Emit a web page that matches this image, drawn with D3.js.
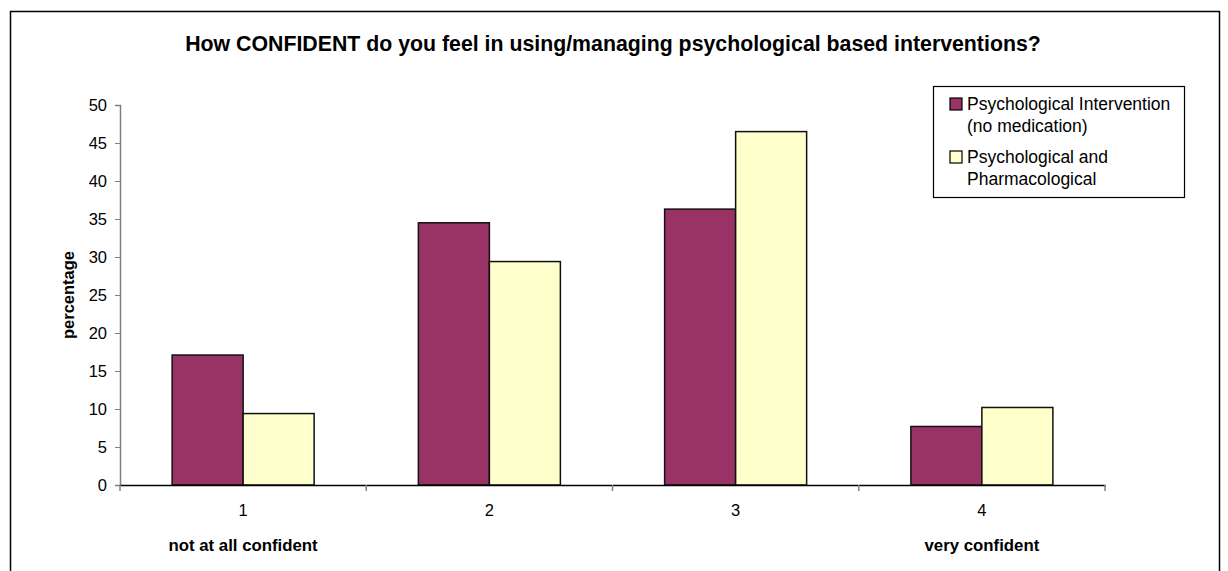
<!DOCTYPE html>
<html>
<head>
<meta charset="utf-8">
<script src="https://cdn.jsdelivr.net/npm/d3@7"></script>
<style>
  body { margin: 0; background: #fff; }
  text { font-family: Arial, "Liberation Sans", sans-serif; }
</style>
</head>
<body>
<div id="chart"></div>
<script>
// data
var categories = ["1", "2", "3", "4"];
var categoryNotes = ["not at all confident", "", "", "very confident"];
var seriesNames = ["Psychological Intervention|(no medication)", "Psychological and|Pharmacological"];
var noMedication = [17.1, 34.5, 36.3, 7.7];
var withMedication = [9.4, 29.4, 46.5, 10.2];
var yTicks = [0, 5, 10, 15, 20, 25, 30, 35, 40, 45, 50];

var width = 1228, height = 571;
var colors = ["#993366", "#FFFFCC"];

var svg = d3.select("#chart").append("svg")
    .attr("width", width)
    .attr("height", height);

// outer frame (runs off the bottom edge like the original)
svg.append("rect")
    .attr("x", 10.5).attr("y", 11.5)
    .attr("width", 1209).attr("height", 600)
    .attr("fill", "none")
    .attr("stroke", "#000")
    .attr("stroke-width", 1.5);

svg.append("text")
    .attr("x", 613).attr("y", 51)
    .attr("text-anchor", "middle")
    .style("font-size", "21.3px")
    .style("font-weight", "bold")
    .text("How CONFIDENT do you feel in using/managing psychological based interventions?");

var plot = { left: 120, right: 1105, top: 105, bottom: 485 };

var x = d3.scaleBand()
    .domain(categories)
    .range([plot.left, plot.right]);

var y = d3.scaleLinear()
    .domain([0, 50])
    .range([plot.bottom, plot.top]);

var barW = 71;

// y axis
var yAxis = svg.append("g")
    .attr("transform", "translate(" + plot.left + ",0)")
    .call(d3.axisLeft(y).tickValues(yTicks).tickSize(5).tickPadding(8));
yAxis.select(".domain").attr("stroke", "#808080").attr("stroke-width", 1.5);
yAxis.selectAll(".tick line").attr("stroke", "#808080");
yAxis.selectAll("text").style("font-size", "16.5px").attr("fill", "#000");

// bars
var rows = categories.map(function (c, i) { return { cat: c, vals: [noMedication[i], withMedication[i]] }; });

var groups = svg.selectAll("g.cat")
    .data(rows)
    .enter()
    .append("g")
    .attr("class", "cat");

groups.selectAll("rect")
    .data(function (d) { return d.vals.map(function (v, k) { return { cat: d.cat, v: v, k: k }; }); })
    .enter()
    .append("rect")
    .attr("x", function (d) { return x(d.cat) + x.bandwidth() / 2 - barW + d.k * barW; })
    .attr("y", function (d) { return y(d.v); })
    .attr("width", barW)
    .attr("height", function (d) { return y(0) - y(d.v); })
    .attr("fill", function (d) { return colors[d.k]; })
    .attr("stroke", "#111")
    .attr("stroke-width", 1.5);

// x axis
var xAxis = svg.append("g")
    .attr("transform", "translate(0," + plot.bottom + ")")
    .call(d3.axisBottom(x).tickSize(0).tickPadding(19));
xAxis.select(".domain").attr("stroke", "#000").attr("stroke-width", 1.5);
xAxis.selectAll("text").style("font-size", "16.5px").attr("fill", "#000");

// tick marks between categories
svg.selectAll("line.sep")
    .data(categories.concat(["end"]))
    .enter()
    .append("line")
    .attr("x1", function (d, i) { return plot.left + i * x.bandwidth(); })
    .attr("x2", function (d, i) { return plot.left + i * x.bandwidth(); })
    .attr("y1", plot.bottom)
    .attr("y2", plot.bottom + 6)
    .attr("stroke", "#808080")
    .attr("stroke-width", 1.5);

// bold notes under first and last category
svg.selectAll("text.note")
    .data(categories)
    .enter()
    .append("text")
    .attr("class", "note")
    .attr("x", function (d) { return x(d) + x.bandwidth() / 2; })
    .attr("y", 551)
    .attr("text-anchor", "middle")
    .style("font-size", "16.8px")
    .style("font-weight", "bold")
    .text(function (d, i) { return categoryNotes[i]; });

// y axis title
svg.append("text")
    .attr("transform", "translate(74," + (plot.top + plot.bottom) / 2 + ") rotate(-90)")
    .attr("text-anchor", "middle")
    .style("font-size", "16.5px")
    .style("font-weight", "bold")
    .text("percentage");

// legend
var legend = svg.append("g").attr("transform", "translate(933,86)");
legend.append("rect")
    .attr("x", 0.5).attr("y", 0.5)
    .attr("width", 251).attr("height", 111)
    .attr("fill", "#fff")
    .attr("stroke", "#000")
    .attr("stroke-width", 1.2);

var items = legend.selectAll("g.item")
    .data(seriesNames)
    .enter()
    .append("g")
    .attr("class", "item")
    .attr("transform", function (d, i) { return "translate(0," + (i * 53) + ")"; });

items.append("rect")
    .attr("x", 17).attr("y", 12)
    .attr("width", 12).attr("height", 12)
    .attr("fill", function (d, i) { return colors[i]; })
    .attr("stroke", "#000")
    .attr("stroke-width", 1.2);

items.each(function (d) {
    var t = d3.select(this).append("text")
        .attr("x", 34).attr("y", 24)
        .style("font-size", "17.5px");
    d.split("|").forEach(function (line, j) {
        t.append("tspan").attr("x", 34).attr("dy", j === 0 ? 0 : 22).text(line);
    });
});
</script>
</body>
</html>
